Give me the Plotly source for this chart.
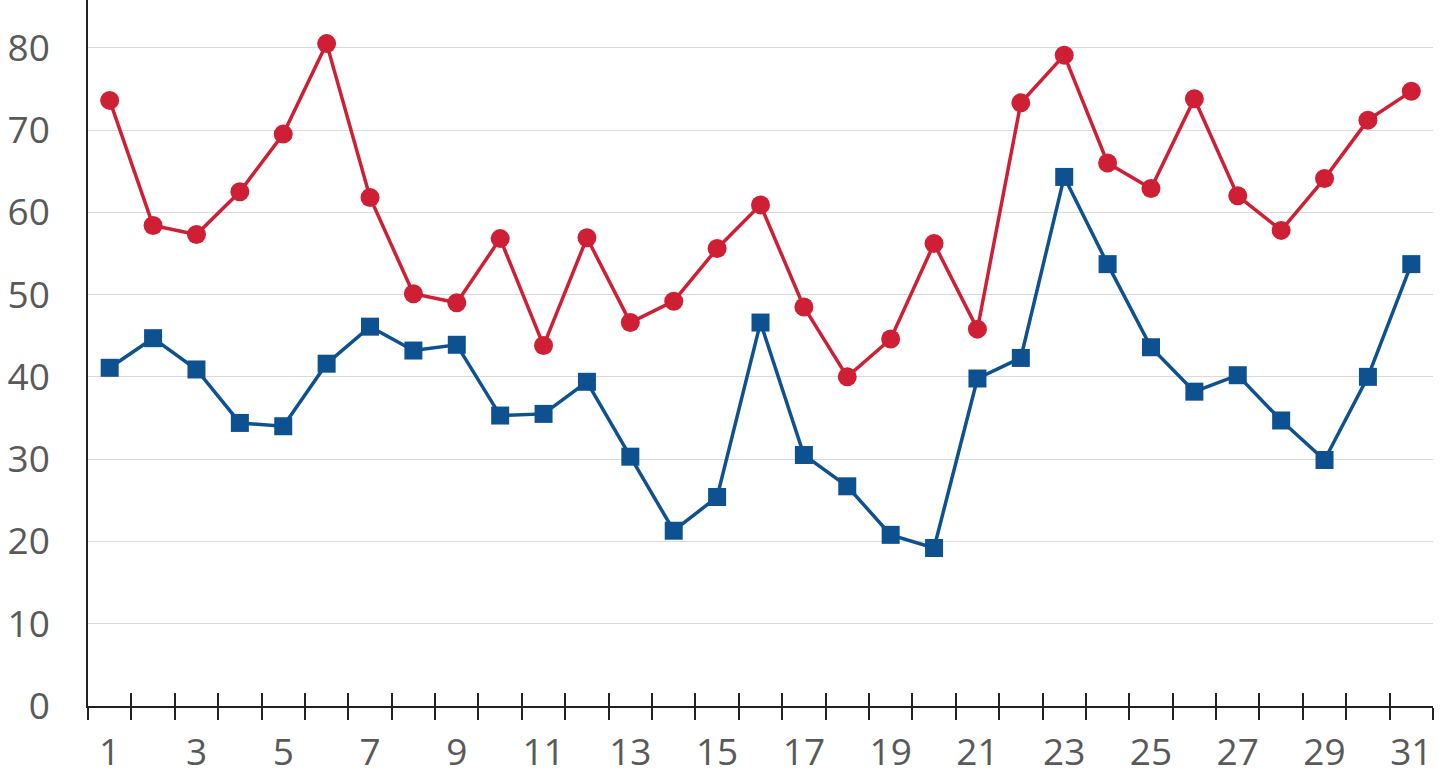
import plotly.graph_objects as go

days = list(range(1, 32))
red_values = [73.6, 58.4, 57.3, 62.5, 69.5, 80.5, 61.8, 50.1, 49.0, 56.8, 43.8, 56.9, 46.6, 49.2, 55.6,
              60.9, 48.5, 40.0, 44.6, 56.2, 45.8, 73.3, 79.1, 66.0, 62.9, 73.8, 62.0, 57.8, 64.1, 71.2, 74.7]
blue_values = [41.1, 44.7, 40.9, 34.4, 34.0, 41.6, 46.1, 43.2, 43.9, 35.3, 35.5, 39.4, 30.3, 21.3, 25.4,
               46.6, 30.5, 26.7, 20.8, 19.2, 39.8, 42.3, 64.3, 53.7, 43.6, 38.2, 40.2, 34.7, 29.9, 40.0, 53.7]
x_label_vals = list(range(1, 32, 2))
x_label_text = [str(v) for v in x_label_vals]
y_tick_vals = list(range(0, 90, 10))

RED = "#CF1F35"
BLUE = "#0D5190"
FONT = "Open Sans"
TXT = "#595959"
FS = 37

fig = go.Figure()
fig.add_trace(go.Scatter(x=days, y=blue_values, mode="lines+markers",
                         line=dict(color=BLUE, width=3.5),
                         marker=dict(symbol="square", size=18, color=BLUE),
                         showlegend=False, cliponaxis=False))
fig.add_trace(go.Scatter(x=days, y=red_values, mode="lines+markers",
                         line=dict(color=RED, width=3.5),
                         marker=dict(symbol="circle", size=19, color=RED),
                         showlegend=False, cliponaxis=False))

bounds = [d - 0.5 for d in days] + [days[-1] + 0.5]
xr = [0.5, 31.5]

fig.update_layout(
    width=1447, height=778,
    margin=dict(l=88, r=14, t=0, b=72, autoexpand=False),
    paper_bgcolor="white", plot_bgcolor="white",
    font=dict(family=FONT, color=TXT, size=FS),
    xaxis=dict(range=xr, tickmode="array", tickvals=bounds, ticktext=[""] * len(bounds),
               ticks="outside", ticklen=12, tickwidth=1.5, tickcolor="#222", automargin=False,
               showline=True, linecolor="#222", linewidth=1.5, showgrid=False, zeroline=False),
    xaxis2=dict(range=xr, overlaying="x", side="bottom", anchor="y", tickmode="array",
                tickvals=bounds[1:], ticktext=[""] * (len(bounds) - 1), automargin=False,
                ticks="inside", ticklen=13, tickwidth=1.5, tickcolor="#222",
                showline=False, showgrid=False, zeroline=False),
    xaxis3=dict(range=xr, overlaying="x", side="bottom", anchor="y", tickmode="array",
                tickvals=x_label_vals, ticktext=x_label_text, ticks="", automargin=False,
                ticklabelstandoff=21, tickfont=dict(family=FONT, size=FS, color=TXT),
                showline=False, showgrid=False, zeroline=False),
    yaxis=dict(range=[0, 85.8], tickmode="array", tickvals=y_tick_vals, automargin=False,
               showgrid=True, gridcolor="#D9D9D9", gridwidth=1.2,
               showline=True, linecolor="#222", linewidth=1.5, zeroline=False,
               ticks="", ticklabelstandoff=29, tickfont=dict(family=FONT, size=FS, color=TXT)),
)
fig.add_trace(go.Scatter(x=[None], y=[None], xaxis="x2", showlegend=False, hoverinfo="skip"))
fig.add_trace(go.Scatter(x=[None], y=[None], xaxis="x3", showlegend=False, hoverinfo="skip"))

fig.write_html("out.html", config={"displayModeBar": False},
               post_script="document.body.style.margin='0';document.body.style.overflow='hidden';")
